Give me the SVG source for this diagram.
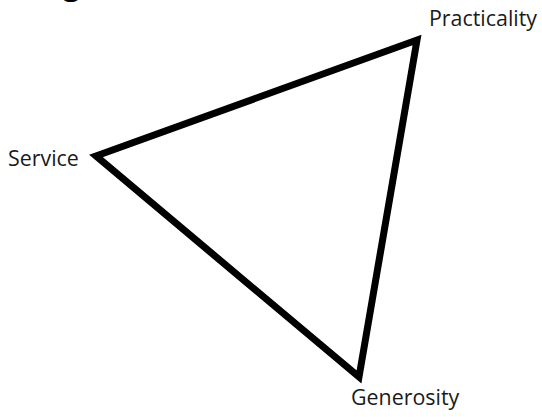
<svg xmlns="http://www.w3.org/2000/svg" width="542" height="417" viewBox="0 0 542 417">
<style>
.lbl{font-family:"Open Sans","Noto Sans","Liberation Sans",sans-serif;font-size:21.4px;fill:#1a1a1a}
.edge{fill:none;stroke:#000;stroke-width:7;stroke-linejoin:miter;stroke-miterlimit:10}
</style>
<rect width="542" height="417" fill="#fff"/>
<text x="63" y="-5" font-family="'Open Sans','Liberation Sans',sans-serif" font-weight="bold" font-size="30" fill="#000">g</text>
<g id="connectors">
<polygon class="edge" points="96,156 417,40 359,377"/>
</g>
<g id="node-practicality"><text class="lbl" x="429" y="26">Practicality</text></g>
<g id="node-service"><text class="lbl" x="8" y="166">Service</text></g>
<g id="node-generosity"><text class="lbl" x="351" y="405">Generosity</text></g>
</svg>
